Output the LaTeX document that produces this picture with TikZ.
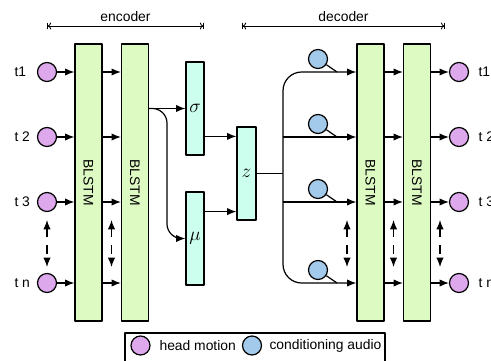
\documentclass[tikz,border=0pt]{standalone}
\usepackage{fontspec}
\setmainfont{Liberation Sans}
\usepackage{graphicx}
\usetikzlibrary{arrows.meta}
\definecolor{lstmgreen}{RGB}{221,250,195}
\definecolor{latentcyan}{RGB}{204,255,238}
\definecolor{headpurple}{RGB}{222,168,236}
\definecolor{audioblue}{RGB}{163,202,234}
\begin{document}
\begin{tikzpicture}[x=0.75pt, y=-0.75pt, font=\fontsize{10.4pt}{12pt}\selectfont, line width=0.9pt, line join=round, >={Latex[length=7pt,width=5.5pt]},
	blstm/.style={draw, fill=lstmgreen, minimum width=20.25pt, minimum height=207.75pt, inner sep=0pt},
	latent/.style={draw, fill=latentcyan, minimum width=13.5pt, minimum height=69.75pt, inner sep=0pt, font=\fontsize{15pt}{18pt}\selectfont},
	head/.style={draw, circle, fill=headpurple, minimum size=14.25pt, inner sep=0pt},
	audio/.style={head, fill=audioblue},
	dots/.style={<->, dash pattern=on 6.5pt off 6pt},
	span/.style={{Bar[width=5pt]To[length=2.5pt]}-{To[length=2.5pt]Bar[width=5pt]}, line width=0.6pt}]
	\useasboundingbox (0,0) rectangle (491,360);
	% layers
	\node[blstm] (b1) at (88.5,182.5) {\rotatebox{-90}{BLSTM}};
	\node[blstm] (b2) at (135,182.5) {\rotatebox{-90}{BLSTM}};
	\node[blstm] (b3) at (370.5,182.5) {\rotatebox{-90}{BLSTM}};
	\node[blstm] (b4) at (417,182.5) {\rotatebox{-90}{BLSTM}};
	\node[latent] (sigma) at (195,108.5) {$\sigma$};
	\node[latent] (mu) at (195,238.5) {$\mu$};
	\node[latent, minimum width=14.25pt] (z) at (246.5,173.5) {$z$};
	% time steps
	\foreach \y/\n/\t in {72/1/t1, 137/2/t 2, 202/3/t 3, 283/4/t n} {
		\node[head] (in\n) at (47,\y) {};
		\node[anchor=west] (lin\n) at (9.5,\y) {\t};
		\node[head] (out\n) at (459,\y) {};
		\node[anchor=west] (lout\n) at (473.5,\y) {\t};
		\node[audio] (au\n) at (318,\y-13) {};
		\coordinate (tail\n) at (337,\y);
		\draw (au\n) -- (tail\n);
		\draw[->] (in\n) -- (in\n -| b1.west);
		\draw[->] (in\n -| b1.east) -- (in\n -| b2.west);
		\draw[->] (in\n -| b3.east) -- (in\n -| b4.west);
		\draw[->] (in\n -| b4.east) -- (out\n);
	}
	\foreach \x in {47,111.5,347,393.5,440}
		\draw[dots] (\x,220) -- (\x,267);
	% encoder to latent
	\coordinate (enc) at (b2.east |- sigma);
	\coordinate (bend) at (167,108.5);
	\draw[->] (enc) -- (sigma.west);
	\draw[->, rounded corners=11pt] (enc) -- (bend) |- (mu.west);
	\coordinate (zs) at ([yshift=-7.5pt]z.north west);
	\coordinate (zm) at ([yshift=6.75pt]z.south west);
	\draw[->] (zs -| sigma.east) -- (zs);
	\draw[->] (zm -| mu.east) -- (zm);
	% latent to decoder
	\coordinate (split) at (283,173.5);
	\draw (z.east) -- (split);
	\draw[->, rounded corners=14pt] (split) |- (in1 -| b3.west);
	\draw[->, rounded corners=14pt] (split) |- (in4 -| b3.west);
	\draw[->] (split |- in2) -- (in2 -| b3.west);
	\draw[->] (split |- in3) -- (in3 -| b3.west);
	% spans
	\draw[span] (47,26) -- node[above] (enclab) {encoder} (204,26);
	\draw[span] (242,26) -- node[above] (declab) {decoder} (445,26);
	% legend
	\draw (125,333) rectangle (385,362);
	\node[head] (lhead) at (140.5,345.5) {};
	\node[anchor=west] (lheadtxt) at (154.5,345.5) {head motion};
	\node[audio] (laudio) at (252,345.5) {};
	\node[anchor=west] (laudiotxt) at (264.5,345.5) {conditioning audio};
\end{tikzpicture}
\end{document}
